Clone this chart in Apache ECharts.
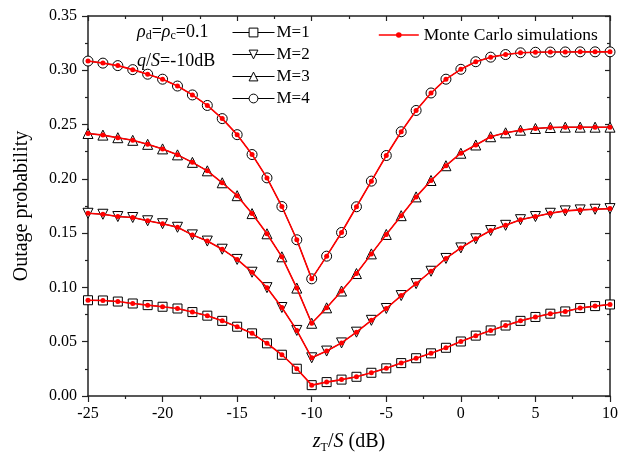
<!DOCTYPE html>
<html lang="en">
<head>
    <meta charset="UTF-8">
    <title>Outage probability</title>
    <script src="https://cdn.jsdelivr.net/npm/echarts@6/dist/echarts.min.js"></script>
    <style>
        html, body { margin: 0; padding: 0; background: #fff; }
    </style>
</head>
<body>
    <div id="main" style="width:629px;height:459px;"></div>
    <script>
    // x values: z_T/S (dB)
    var zT = [-25, -24, -23, -22, -21, -20, -19, -18, -17, -16, -15, -14, -13, -12, -11, -10,
              -9, -8, -7, -6, -5, -4, -3, -2, -1, 0, 1, 2, 3, 4, 5, 6, 7, 8, 9, 10];

    // outage probability
    var m1 = [0.0882, 0.0880, 0.0870, 0.0852, 0.0837, 0.0822, 0.0806, 0.0773, 0.0740, 0.0692, 0.0638, 0.0577,
              0.0485, 0.0380, 0.0251, 0.0100, 0.0128, 0.0151, 0.0177, 0.0214, 0.0255, 0.0303, 0.0348, 0.0393,
              0.0444, 0.0502, 0.0556, 0.0604, 0.0649, 0.0692, 0.0728, 0.0758, 0.0779, 0.0810, 0.0828, 0.0843];
    var m2 = [0.1683, 0.1674, 0.1653, 0.1644, 0.1614, 0.1587, 0.1554, 0.1484, 0.1427, 0.1352, 0.1258, 0.1140,
              0.0998, 0.0815, 0.0604, 0.0352, 0.0414, 0.0489, 0.0588, 0.0697, 0.0806, 0.0925, 0.1035, 0.1149,
              0.1267, 0.1364, 0.1448, 0.1524, 0.1572, 0.1624, 0.1653, 0.1683, 0.1705, 0.1714, 0.1720, 0.1726];
    var m3 = [0.2418, 0.2403, 0.2379, 0.2355, 0.2318, 0.2276, 0.2221, 0.2152, 0.2074, 0.1964, 0.1845, 0.1680,
              0.1494, 0.1282, 0.0994, 0.0670, 0.0812, 0.0967, 0.1128, 0.1309, 0.1488, 0.1661, 0.1834, 0.1985,
              0.2121, 0.2236, 0.2312, 0.2388, 0.2424, 0.2448, 0.2464, 0.2473, 0.2476, 0.2476, 0.2476, 0.2476];
    var m4 = [0.3085, 0.3066, 0.3043, 0.3006, 0.2964, 0.2918, 0.2855, 0.2773, 0.2676, 0.2555, 0.2407, 0.2224,
              0.2009, 0.1745, 0.1439, 0.1079, 0.1288, 0.1506, 0.1743, 0.1979, 0.2215, 0.2434, 0.2630, 0.2791,
              0.2918, 0.3009, 0.3079, 0.3121, 0.3145, 0.3161, 0.3166, 0.3168, 0.3169, 0.3170, 0.3170, 0.3170];

    var xTicks = [-25, -20, -15, -10, -5, 0, 5, 10];
    var yTicks = [0.00, 0.05, 0.10, 0.15, 0.20, 0.25, 0.30, 0.35];

    var seriesNames = ['M=1', 'M=2', 'M=3', 'M=4'];
    var seriesData = [m1, m2, m3, m4];
    var symbols = ['rect', 'triangle', 'triangle', 'circle'];
    var rotates = [0, 180, 0, 0];
    var mcName = 'Monte Carlo simulations';

    var serif = "'Liberation Serif', 'Times New Roman', serif";

    function pairs(ys) {
        return zT.map(function (x, i) { return [x, ys[i]]; });
    }

    var series = [];
    // analytical curves: black lines with hollow markers
    seriesData.forEach(function (ys, k) {
        series.push({
            name: seriesNames[k],
            type: 'line',
            data: pairs(ys),
            symbol: symbols[k],
            symbolSize: symbols[k] === 'rect' ? 9 : 10,
            symbolRotate: rotates[k],
            showAllSymbol: true,
            lineStyle: { color: '#000', width: 1 },
            itemStyle: { color: '#fff', borderColor: '#000', borderWidth: 1 },
            emphasis: { disabled: true },
            z: 2
        });
    });
    // simulations: red line with dots
    seriesData.forEach(function (ys) {
        series.push({
            name: mcName,
            type: 'line',
            data: pairs(ys),
            symbol: 'circle',
            symbolSize: 5,
            showAllSymbol: true,
            lineStyle: { color: '#ff0000', width: 1.6 },
            itemStyle: { color: '#ff0000', borderWidth: 0 },
            emphasis: { disabled: true },
            z: 3
        });
    });

    var tickStyle = { color: '#222', width: 1.2 };

    var myChart = echarts.init(document.getElementById('main'));
    var option = {
        animation: false,
        backgroundColor: '#fff',
        textStyle: { fontFamily: serif, color: '#000' },
        grid: { left: 88, right: 19, top: 16, bottom: 57 },
        legend: [{
            data: seriesNames,
            orient: 'vertical',
            left: 232,
            top: 24,
            padding: 0,
            itemWidth: 42,
            itemHeight: 11,
            itemGap: 5,
            selectedMode: false,
            itemStyle: { borderWidth: 1 },
            lineStyle: { width: 1 },
            textStyle: { fontFamily: serif, fontSize: 17, color: '#000', padding: [0, 0, 0, -3] }
        }, {
            data: [mcName],
            left: 378,
            top: 26,
            padding: 0,
            itemWidth: 40,
            itemHeight: 7,
            selectedMode: false,
            lineStyle: { width: 1.6 },
            textStyle: { fontFamily: serif, fontSize: 17.5, color: '#000' }
        }],
        graphic: [{
            type: 'text',
            left: 137,
            top: 23,
            style: {
                text: '{i|ρ}{s|d}{n|=}{i|ρ}{s|c}{n|=0.1}',
                rich: {
                    i: { fontFamily: serif, fontStyle: 'italic', fontSize: 18, fill: '#000' },
                    n: { fontFamily: serif, fontSize: 18, fill: '#000' },
                    s: { fontFamily: serif, fontSize: 12, fill: '#000', verticalAlign: 'bottom', padding: [8, 0, 0, 0] }
                }
            }
        }, {
            type: 'text',
            left: 137,
            top: 52,
            style: {
                text: '{i|q}{n|/}{i|S}{n|=-10dB}',
                rich: {
                    i: { fontFamily: serif, fontStyle: 'italic', fontSize: 18, fill: '#000' },
                    n: { fontFamily: serif, fontSize: 18, fill: '#000' }
                }
            }
        }],
        xAxis: [{
            type: 'value',
            min: -25,
            max: 10,
            interval: 5,
            name: '{i|z}{s|T}{n|/}{i|S}{n| (dB)}',
            nameLocation: 'middle',
            nameGap: 33,
            nameTextStyle: {
                rich: {
                    i: { fontFamily: serif, fontStyle: 'italic', fontSize: 20, color: '#000' },
                    n: { fontFamily: serif, fontSize: 20, color: '#000' },
                    s: { fontFamily: serif, fontSize: 12, color: '#000', padding: [13, 0, 0, 0] }
                }
            },
            axisLine: { onZero: false, lineStyle: { color: '#222', width: 1.5 } },
            axisTick: { inside: false, length: 6, lineStyle: tickStyle },
            minorTick: { show: true, splitNumber: 2, length: 3, lineStyle: tickStyle },
            axisLabel: {
                fontFamily: serif, fontSize: 16, color: '#000', margin: 10,
                formatter: function (v) { return xTicks.indexOf(v) >= 0 ? String(v) : ''; }
            },
            splitLine: { show: false }
        }, {
            type: 'value',
            position: 'top',
            min: -25,
            max: 10,
            interval: 5,
            axisLine: { onZero: false, lineStyle: { color: '#222', width: 1.5 } },
            axisTick: { inside: true, length: 5, lineStyle: tickStyle },
            minorTick: { show: true, splitNumber: 2, length: 3, lineStyle: tickStyle },
            axisLabel: { show: false },
            splitLine: { show: false }
        }],
        yAxis: [{
            type: 'value',
            min: 0,
            max: 0.35,
            interval: 0.05,
            name: 'Outage probability',
            nameLocation: 'middle',
            nameGap: 56,
            nameTextStyle: { fontFamily: serif, fontSize: 20, color: '#000' },
            axisLine: { show: true, onZero: false, lineStyle: { color: '#222', width: 1.5 } },
            axisTick: { show: true, inside: false, length: 6, lineStyle: tickStyle },
            minorTick: { show: true, splitNumber: 2, length: 3, lineStyle: tickStyle },
            axisLabel: {
                fontFamily: serif, fontSize: 16, color: '#000', margin: 11,
                formatter: function (v) {
                    var hit = yTicks.some(function (t) { return Math.abs(t - v) < 1e-9; });
                    return hit ? v.toFixed(2) : '';
                }
            },
            splitLine: { show: false }
        }, {
            type: 'value',
            position: 'right',
            min: 0,
            max: 0.35,
            interval: 0.05,
            axisLine: { show: true, onZero: false, lineStyle: { color: '#222', width: 1.5 } },
            axisTick: { show: true, inside: true, length: 5, lineStyle: tickStyle },
            minorTick: { show: true, splitNumber: 2, length: 3, lineStyle: tickStyle },
            axisLabel: { show: false },
            splitLine: { show: false }
        }],
        series: series
    };
    myChart.setOption(option);
    </script>
</body>
</html>
